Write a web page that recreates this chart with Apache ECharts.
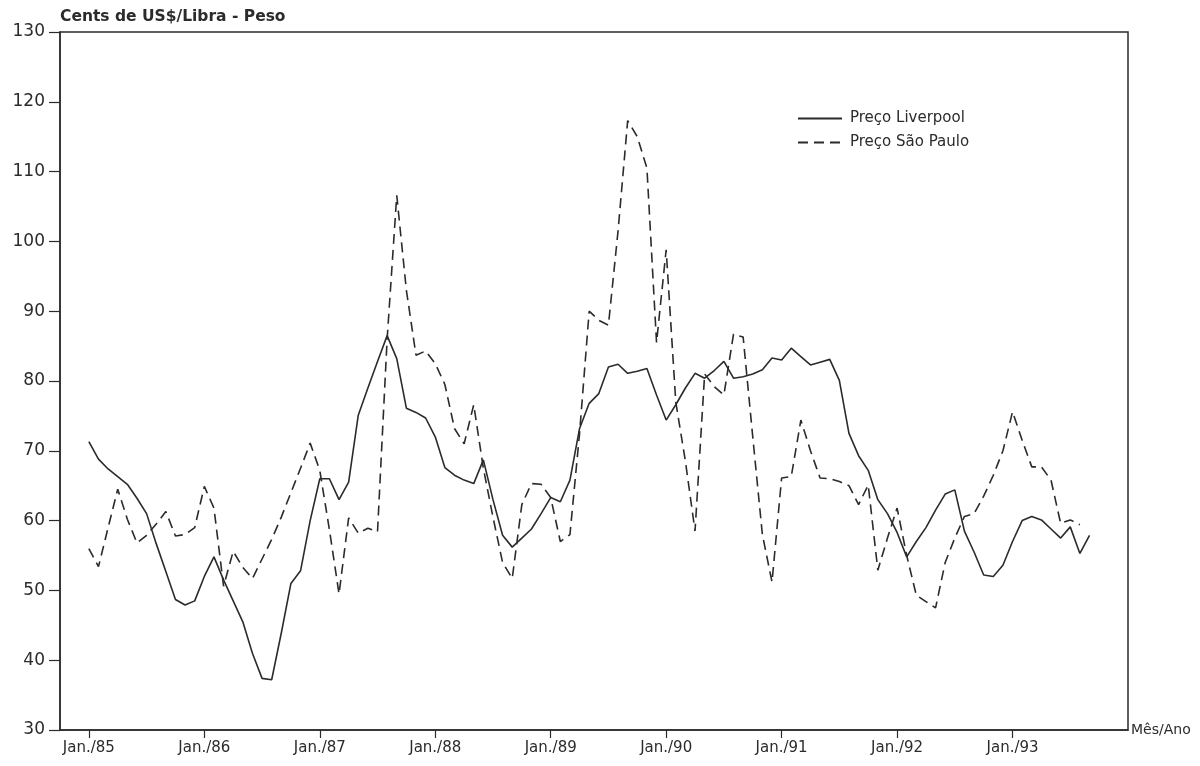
<!DOCTYPE html>
<html>
<head>
<meta charset="utf-8">
<script src="https://cdn.jsdelivr.net/npm/echarts@6/dist/echarts.min.js"></script>
<style>html,body{margin:0;padding:0;background:#fff;}#c{width:1200px;height:766px;}</style>
</head>
<body>
<div id="c"></div>
<script>
// Months from Jan/85 to Sep/93 (105 monthly points)
const startYear = 1985;
const months = [];
for (let i = 0; i < 105; i++) {
  const y = startYear + Math.floor(i / 12), m = (i % 12) + 1;
  months.push(y + '-' + String(m).padStart(2, '0'));
}
// Axis padding: Oct/84-Dec/84 before, Oct/93-Jan/94 after
const padBefore = ['1984-10', '1984-11', '1984-12'];
const padAfter = ['1993-10', '1993-11', '1993-12', '1994-01'];
const categories = padBefore.concat(months, padAfter);

const precoLiverpool = [
  71.3, 68.8, 67.4, 66.3, 65.2, 63.2, 61.0, 56.7, 52.7, 48.7, 47.9, 48.5,
  52.0, 54.8, 51.5, 48.5, 45.5, 41.0, 37.4, 37.2, 43.9, 51.0, 52.8, 60.0,
  66.0, 66.0, 63.0, 65.5, 75.1, 79.0, 82.8, 86.5, 83.2, 76.1, 75.5, 74.7,
  72.0, 67.6, 66.5, 65.8, 65.3, 68.7, 63.0, 57.9, 56.2, 57.5, 58.8, 61.0,
  63.3, 62.7, 65.8, 73.2, 76.8, 78.2, 82.0, 82.4, 81.1, 81.4, 81.8, 78.0,
  74.4, 76.6, 79.0, 81.1, 80.4, 81.5, 82.8, 80.4, 80.6, 81.0, 81.6, 83.3,
  83.0, 84.7, 83.5, 82.3, 82.7, 83.1, 80.1, 72.5, 69.3, 67.2, 63.0, 61.0,
  58.3, 54.8, 57.0, 59.0, 61.5, 63.8, 64.4, 58.5, 55.5, 52.2, 52.0, 53.6,
  57.0, 60.0, 60.6, 60.1, 58.8, 57.5, 59.1, 55.3, 57.9
];
const precoSaoPaulo = [
  56.0, 53.4, 59.0, 64.5, 60.2, 56.8, 57.9, 59.5, 61.3, 57.8, 58.0, 59.0,
  64.9, 61.8, 50.6, 55.6, 53.3, 51.7, 54.5, 57.3, 60.5, 64.0, 67.5, 71.1,
  67.2, 58.7, 49.5, 60.4, 58.2, 58.9, 58.4, 86.0, 106.6, 93.0, 83.7, 84.3,
  82.5, 79.5, 73.2, 71.0, 76.6, 67.5, 60.5, 54.0, 51.7, 62.3, 65.3, 65.2,
  63.3, 57.0, 58.0, 72.5, 90.0, 88.7, 88.0, 101.5, 117.3, 115.0, 110.5, 85.5,
  98.8, 77.0, 68.5, 58.5, 81.0, 79.2, 78.0, 86.7, 86.3, 72.0, 58.0, 51.2,
  66.1, 66.3, 74.4, 70.0, 66.1, 66.0, 65.6, 65.0, 62.3, 65.1, 52.9, 57.5,
  61.8, 55.0, 49.3, 48.4, 47.5, 54.0, 57.5, 60.6, 61.0, 63.5, 66.5, 70.0,
  75.6, 71.5, 67.7, 67.7, 65.8, 59.6, 60.1, 59.4
];
const yTicks = [30, 40, 50, 60, 70, 80, 90, 100, 110, 120, 130];

function padSeries(arr) {
  const after = categories.length - padBefore.length - arr.length;
  return padBefore.map(() => null).concat(arr, new Array(after).fill(null));
}
const isJanLabel = (v) => v.endsWith('-01') && v >= '1985-01' && v <= '1993-12';

const FONT = "'DejaVu Sans', sans-serif";
const INK = '#2b2b2b';

const chart = echarts.init(document.getElementById('c'), null, {renderer: 'canvas'});
chart.setOption({
  backgroundColor: '#ffffff',
  animation: false,
  grid: {left: 60, right: 72, top: 32, bottom: 36, show: true, borderColor: INK, borderWidth: 1.5},
  legend: {
    orient: 'vertical', left: 792, top: 106, itemWidth: 44, itemHeight: 14, itemGap: 9,
    itemStyle: {opacity: 0},
    textStyle: {color: INK, fontFamily: FONT, fontSize: 15, padding: [0, 0, 0, 3]},
    data: ['Preço Liverpool', 'Preço São Paulo']
  },
  xAxis: {
    type: 'category', data: categories, boundaryGap: false,
    name: 'Mês/Ano', nameLocation: 'end', nameGap: 3,
    nameTextStyle: {color: INK, fontFamily: FONT, fontSize: 14, verticalAlign: 'middle', align: 'left'},
    axisLine: {lineStyle: {color: INK, width: 1.5}},
    axisTick: {show: true, length: 8, inside: false, lineStyle: {color: INK, width: 1.2},
      interval: (idx, v) => isJanLabel(v)},
    axisLabel: {interval: (idx, v) => isJanLabel(v), margin: 11, color: INK,
      fontFamily: FONT, fontSize: 15,
      formatter: (v) => 'Jan./' + v.slice(2, 4)},
    splitLine: {show: false}
  },
  yAxis: {
    type: 'value', min: yTicks[0], max: yTicks[yTicks.length - 1], interval: 10,
    name: 'Cents de US$/Libra - Peso', nameLocation: 'end', nameGap: 7,
    nameTextStyle: {color: INK, fontFamily: FONT, fontSize: 15.5, fontWeight: 'bold', align: 'left'},
    axisLine: {show: true, lineStyle: {color: INK, width: 1.5}},
    axisTick: {show: true, length: 11, lineStyle: {color: INK, width: 1.2}},
    axisLabel: {color: INK, fontFamily: FONT, fontSize: 17, margin: 15},
    splitLine: {show: false}
  },
  series: [
    {
      name: 'Preço Liverpool', type: 'line', data: padSeries(precoLiverpool),
      showSymbol: false, symbol: 'none', connectNulls: false,
      lineStyle: {color: INK, width: 1.6, type: 'solid'}, itemStyle: {color: INK}
    },
    {
      name: 'Preço São Paulo', type: 'line', data: padSeries(precoSaoPaulo),
      showSymbol: false, symbol: 'none', connectNulls: false,
      lineStyle: {color: INK, width: 1.6, type: [10, 6]}, itemStyle: {color: INK}
    }
  ]
});
</script>
</body>
</html>
